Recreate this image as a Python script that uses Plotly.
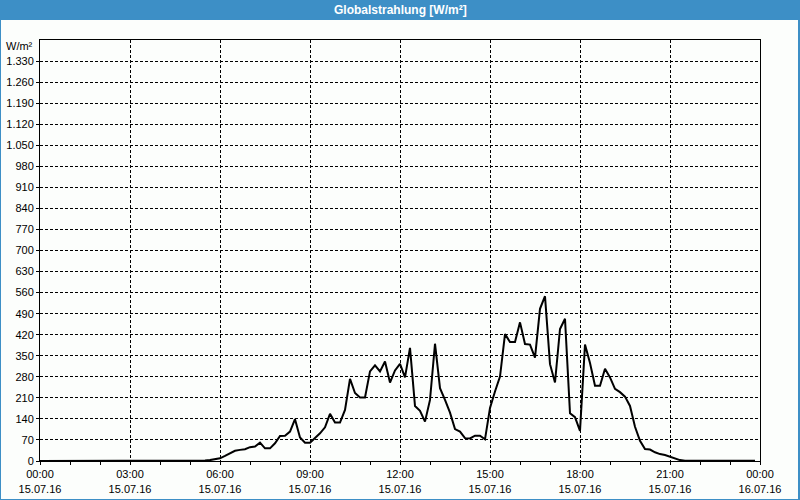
import pandas as pd
import plotly.graph_objects as go

# 10-minute samples, 15.07.2016 00:00 .. 23:50
times = pd.date_range("2016-07-15 00:00", periods=144, freq="10min")
values = (
    [0] * 33 +
    [2, 3, 5,
     9, 17, 26, 34, 37, 39, 46, 48, 61, 42, 42, 59,
     83, 84, 98, 139, 78, 61, 61, 76, 92, 112, 157, 128,
     128, 170, 273, 226, 211, 211, 298, 318, 298, 331, 261, 301,
     323, 278, 376, 183, 167, 131, 203, 390, 242, 203, 161, 106,
     98, 76, 75, 84, 84, 72, 176, 231, 281, 422, 396, 396,
     461, 389, 387, 344, 506, 548, 322, 261, 439, 473, 159, 146,
     100, 387, 326, 250, 250, 307, 278, 240, 229, 214, 183, 114,
     67, 40, 38, 29, 23, 20, 14, 10, 3] +
    [1] * 15
)

x_tickvals = pd.date_range("2016-07-15 00:00", periods=9, freq="3h")
x_ticktext = [t.strftime("%H:%M") + "<br>" + t.strftime("%d.%m.%y") for t in x_tickvals]

y_tickvals = list(range(0, 1331, 70))
y_ticktext = [f"{v:,}".replace(",", ".") for v in y_tickvals]

title_text = "Globalstrahlung [W/m²]"
unit_text = "W/m²"

BLUE = "#3d8fc6"
W, H = 800, 500
L, R, T, B = 40, 40, 40, 39
pw, ph = W - L - R, H - T - B

def px_x(px):
    return (px - L) / pw

def px_y(py):
    return (H - B - py) / ph

fig = go.Figure()
fig.add_trace(go.Scatter(
    x=times, y=values, mode="lines",
    line=dict(color="black", width=2),
    hoverinfo="skip",
))

font = dict(family="Liberation Sans, Arial, sans-serif", size=11, color="black")

fig.update_layout(
    width=W, height=H,
    margin=dict(l=L, r=R, t=T, b=B, pad=0, autoexpand=False),
    paper_bgcolor=BLUE,
    plot_bgcolor="#fcfefc",
    showlegend=False,
    font=font,
    xaxis=dict(
        range=[pd.Timestamp("2016-07-15 00:00"), pd.Timestamp("2016-07-16 00:00")],
        tickvals=list(x_tickvals), ticktext=x_ticktext,
        ticks="outside", ticklen=3, tickcolor="black", tickwidth=1,
        showgrid=True, gridcolor="black", gridwidth=1, griddash="3px,2px",
        showline=True, linecolor="black", linewidth=1, mirror=True,
        zeroline=False, automargin=False,
        minor=dict(dtick=3600000, ticks="outside", ticklen=3, tickcolor="black", showgrid=False),
        tickfont=font,
    ),
    yaxis=dict(
        range=[0, 1400],
        tickvals=y_tickvals, ticktext=y_ticktext,
        ticks="outside", ticklen=3, tickcolor="black", tickwidth=1,
        showgrid=True, gridcolor="black", gridwidth=1, griddash="3px,2px",
        showline=True, linecolor="black", linewidth=1, mirror=True,
        zeroline=False, automargin=False,
        tickfont=font,
    ),
    shapes=[
        dict(type="rect", xref="paper", yref="paper", layer="below",
             x0=px_x(1), x1=px_x(798), y0=px_y(20), y1=px_y(499),
             fillcolor="#fcfefc", line=dict(width=0)),
    ],
    annotations=[
        dict(text="<b>" + title_text + "</b>", xref="paper", yref="paper",
             x=px_x(400), y=px_y(10), xanchor="center", yanchor="middle",
             showarrow=False,
             font=dict(family="Liberation Sans, Arial, sans-serif", size=12, color="white")),
        dict(text=unit_text, xref="paper", yref="paper",
             x=px_x(35), y=px_y(46), xanchor="right", yanchor="middle",
             showarrow=False, font=font),
    ],
)

fig.write_html("out.html")
